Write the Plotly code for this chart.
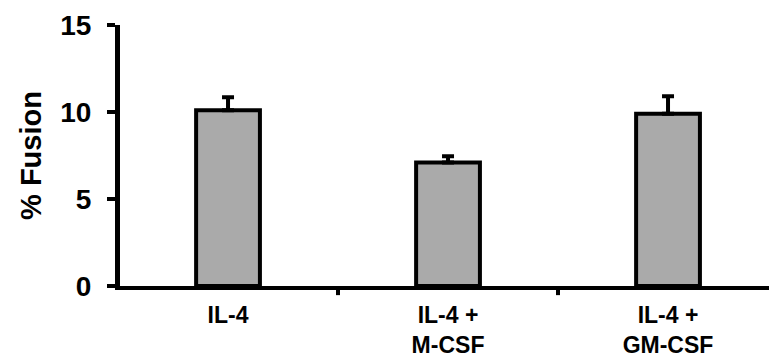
import plotly.graph_objects as go

categories = ["IL-4", "IL-4 +<br>M-CSF", "IL-4 +<br>GM-CSF"]
fusion = [10.1, 7.1, 9.9]
err_up = [0.75, 0.35, 1.0]
y_ticks = [0, 5, 10, 15]

FONT = "Liberation Sans, Arial, sans-serif"

fig = go.Figure()
fig.add_trace(go.Bar(
    x=[0, 1, 2], y=fusion, width=0.29,
    marker=dict(color="#aaaaaa", line=dict(color="black", width=4)),
    error_y=dict(type="data", array=err_up, arrayminus=[0, 0, 0], symmetric=False,
                 color="black", thickness=4, width=6),
))

fig.update_layout(
    width=769, height=358,
    margin=dict(l=120, r=0, t=25, b=69),
    plot_bgcolor="white", paper_bgcolor="white",
    showlegend=False,
    xaxis=dict(
        range=[-0.491, 2.459],
        tickmode="array", tickvals=[0, 1, 2], ticktext=categories,
        showline=True, linecolor="black", linewidth=4,
        ticks="", showgrid=False, zeroline=False,
        tickfont=dict(family=FONT, size=23, color="black", weight="bold"),
        ticklabelstandoff=5,
    ),
    yaxis=dict(
        range=[0, 15], tickvals=y_ticks,
        showline=True, linecolor="black", linewidth=5,
        ticks="outside", ticklen=8, tickwidth=4, tickcolor="black",
        showgrid=False, zeroline=False,
        tickfont=dict(family=FONT, size=28, color="black", weight="bold"),
        ticklabelstandoff=10,
        title=dict(text="% Fusion", font=dict(family=FONT, size=29, color="black", weight="bold"),
                   standoff=12),
    ),
)

# boundary tick marks on the category axis, positioned via the x axis scale
for b in [0.5, 1.5]:
    fig.add_shape(type="line", xref="x", yref="y domain", x0=b, x1=b, y0=0, y1=-0.035,
                  line=dict(color="black", width=4))

fig.write_html("out.html")
